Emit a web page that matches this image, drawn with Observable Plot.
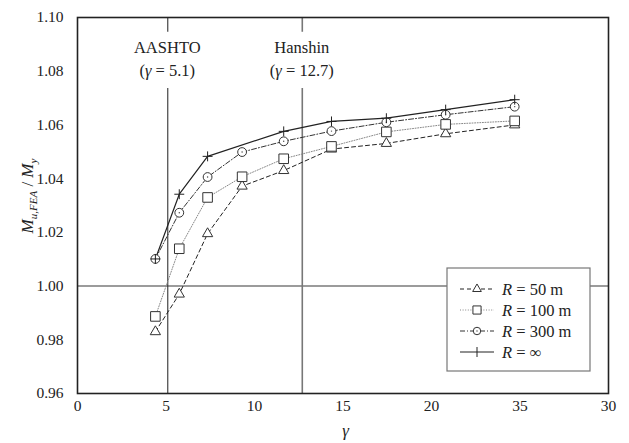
<!DOCTYPE html>
<html><head><meta charset="utf-8">
<script src="https://cdn.jsdelivr.net/npm/d3@7"></script>
<script src="https://cdn.jsdelivr.net/npm/@observablehq/plot@0.6"></script>
<style>
body{margin:0;background:#fff;}
svg, svg text, svg tspan{font-family:"Liberation Serif","Times New Roman",serif !important;}
</style>
</head><body><div id="chart"></div>
<script>
// ---- data ----
const gamma = [4.4, 5.75, 7.35, 9.3, 11.65, 14.35, 17.45, 20.8, 24.7];
const r50   = [0.983, 0.997, 1.0195, 1.0372, 1.0430, 1.0510, 1.0531, 1.0567, 1.0600];
const r100  = [0.9887, 1.0139, 1.0330, 1.0407, 1.0474, 1.0520, 1.0574, 1.0602, 1.0615];
const r300  = [1.0101, 1.0273, 1.0406, 1.0499, 1.0539, 1.0577, 1.0610, 1.0638, 1.0668];
const rInf  = [1.0101, 1.0342, 1.0483, null, 1.0576, 1.0613, 1.0625, 1.0657, 1.0694];
const seriesNames = ["R = 50 m", "R = 100 m", "R = 300 m", "R = ∞"];
const legendValues = ["50 m", "100 m", "300 m", "∞"];
const xTickValues = [0, 5, 10, 15, 20, 25, 30];
const xTickLabels = ["0", "5", "10", "15", "20", "35", "30"];
const yTickValues = [0.96, 0.98, 1.00, 1.02, 1.04, 1.06, 1.08, 1.10];
const refGamma = [5.1, 12.7];
const refNames = ["AASHTO", "Hanshin"];
const refLevel = [1.0];

// ---- build table ----
const allValues = [r50, r100, r300, rInf];
const styles = [
  {dash: "4,3", stroke: "#222", symbol: "triangle", r: 3.8, width: 1},
  {dash: "1,1.6", stroke: "#888", symbol: "square", r: 5.4, width: 1},
  {dash: "5,2,1,2", stroke: "#333", symbol: "circle", r: 4.4, width: 1},
  {dash: null, stroke: "#222", symbol: "plus", r: 3.3, width: 1.2}
];
const series = allValues.map((vals, i) =>
  gamma.map((g, j) => ({g, v: vals[j], s: seriesNames[i]})).filter(d => d.v != null));

const refs = refGamma.map((g, i) => ({g, name: refNames[i]}));

const marks = [
  Plot.ruleY(refLevel, {stroke: "#7a7a7a", strokeWidth: 1.6}),
  Plot.ruleX(refs.slice(0,1), {x: "g", y1: () => 0.96, y2: () => 1.0736, stroke: "#333", strokeWidth: 1.1}),
  Plot.ruleX(refs.slice(0,1), {x: "g", y1: () => 1.0945, y2: () => 1.10, stroke: "#333", strokeWidth: 1.1}),
  Plot.ruleX(refs.slice(1), {x: "g", y1: () => 0.96, y2: () => 1.0736, stroke: "#777", strokeWidth: 1.6}),
  Plot.ruleX(refs.slice(1), {x: "g", y1: () => 1.0945, y2: () => 1.10, stroke: "#777", strokeWidth: 1.6}),
];
series.forEach((data, i) => {
  const st = styles[i];
  marks.push(Plot.line(data, {x: "g", y: "v", stroke: st.stroke, strokeWidth: st.width, strokeDasharray: st.dash}));
});
series.forEach((data, i) => {
  const st = styles[i];
  if (st.symbol === "plus") {
    marks.push(Plot.dot(data, {x: "g", y: "v", symbol: "plus", r: st.r, stroke: "#222", strokeWidth: 1, fill: "none"}));
  } else {
    marks.push(Plot.dot(data, {x: "g", y: "v", symbol: st.symbol, r: st.r, stroke: "#333", strokeWidth: 1, fill: "white"}));
    if (st.symbol === "circle") marks.push(Plot.dot(data, {x: "g", y: "v", r: 0.7, fill: "#444", stroke: "none"}));
  }
});
marks.push(Plot.frame({stroke: "#222", strokeWidth: 1.6}));

const plot = Plot.plot({
  width: 629, height: 443,
  marginLeft: 77, marginRight: 21, marginTop: 17, marginBottom: 50,
  style: {fontFamily: "Liberation Serif", fontSize: "15.5px", background: "#fff", color: "#222"},
  x: {domain: [0, 30], ticks: xTickValues, tickFormat: d => xTickLabels[xTickValues.indexOf(d)], tickSize: 0, tickPadding: 6, label: null},
  y: {domain: [0.96, 1.10], ticks: yTickValues, tickFormat: d => d.toFixed(2), tickSize: 0, tickPadding: 14, label: null},
  marks
});
document.getElementById("chart").appendChild(plot);

// ---- extra text & legend (via scales) ----
const svg = d3.select(plot);
svg.attr("font-family", "Liberation Serif").style("font-family", "Liberation Serif");
const xs = plot.scale("x"), ys = plot.scale("y");
const ann = svg.append("g").attr("font-size", 16.5).attr("fill", "#222").attr("text-anchor", "middle");
refs.forEach(r => {
  const x = xs.apply(r.g);
  ann.append("text").attr("x", x).attr("y", ys.apply(1.0887)).attr("dy", "0.35em").text(r.name);
  const t = ann.append("text").attr("x", x).attr("y", ys.apply(1.0803)).attr("dy", "0.35em");
  t.append("tspan").text("(");
  t.append("tspan").attr("font-style", "italic").text("γ");
  t.append("tspan").text(" = " + r.g + ")");
});

// x label
svg.append("text").attr("x", (xs.range[0] + xs.range[1]) / 2 + 3).attr("y", 430).attr("dy", "0.35em")
  .attr("text-anchor", "middle").attr("font-size", 17).attr("font-style", "italic").attr("fill", "#222").text("γ");

// y label
const yl = svg.append("text").attr("transform", "translate(27,196) rotate(-90)")
  .attr("text-anchor", "middle").attr("dy", "0.35em").attr("font-size", 17).attr("fill", "#222");
yl.append("tspan").attr("font-style", "italic").text("M");
yl.append("tspan").attr("font-style", "italic").attr("font-size", 11).attr("dy", 4).text("u,FEA");
yl.append("tspan").attr("dy", -4).text(" / ");
yl.append("tspan").attr("font-style", "italic").text("M");
yl.append("tspan").attr("font-style", "italic").attr("font-size", 11).attr("dy", 4).text("y");

// legend
const lg = svg.append("g").attr("text-anchor", "start");
lg.append("rect").attr("x", 447).attr("y", 268).attr("width", 143).attr("height", 103)
  .attr("fill", "white").attr("stroke", "#777").attr("stroke-width", 1.2);
const legYs = [289, 310, 331, 352];
styles.forEach((st, i) => {
  const y = legYs[i];
  lg.append("line").attr("x1", 460).attr("x2", 494).attr("y1", y).attr("y2", y)
    .attr("stroke", st.stroke).attr("stroke-width", st.width).attr("stroke-dasharray", st.dash);
  if (st.symbol !== "plus") {
    const sym = {triangle: d3.symbolTriangle, square: d3.symbolSquare, circle: d3.symbolCircle}[st.symbol];
    const rr = st.r * 0.85;
    lg.append("path").attr("transform", `translate(477,${y})`)
      .attr("d", d3.symbol(sym, Math.PI * rr * rr)()).attr("fill", "white").attr("stroke", "#333");
    if (st.symbol === "circle") lg.append("circle").attr("cx", 477).attr("cy", y).attr("r", 0.7).attr("fill", "#444");
  } else {
    lg.append("line").attr("x1", 477).attr("x2", 477).attr("y1", y - 5).attr("y2", y + 5).attr("stroke", "#222");
  }
  const t = lg.append("text").attr("x", 502).attr("y", y).attr("dy", "0.35em").attr("font-size", 16.5).attr("fill", "#222").attr("text-anchor", "start");
  t.append("tspan").attr("font-style", "italic").text("R");
  t.append("tspan").text(" = " + legendValues[i]);
});
</script>
</body></html>
